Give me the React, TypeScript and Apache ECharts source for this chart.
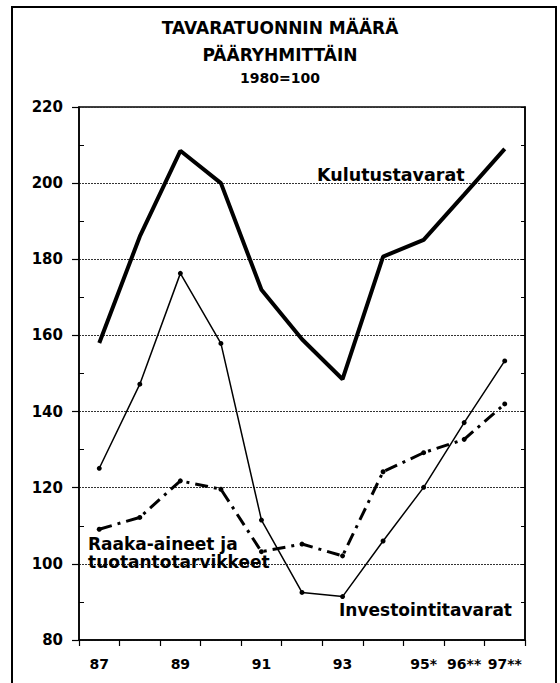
import React, { useEffect, useRef } from "react";
import * as echarts from "echarts";

const categories = ["87", "88", "89", "90", "91", "92", "93", "94", "95*", "96**", "97**"];
const shownLabels = ["87", "89", "91", "93", "95*", "96**", "97**"];
const kulutustavarat = [158, 186, 208.5, 200, 172, 159, 148.5, 180.7, 185.1, 197, 209];
const investointitavarat = [125.1, 147.2, 176.3, 157.9, 111.5, 92.5, 91.4, 106, 120.1, 137.1, 153.3];
const raakaAineet = [109.1, 112.2, 121.8, 119.6, 103.2, 105.2, 102.1, 124.2, 129.2, 132.7, 142];

const FONT = "'DejaVu Sans', 'Liberation Sans', Arial, sans-serif";

export default function App() {
  const ref = useRef<HTMLDivElement>(null);
  useEffect(() => {
    if (!ref.current) return;
    const chart = echarts.init(ref.current, null, { renderer: "svg" });
    const txt = (text: string, x: number, y: number, size: number, align = "left") => ({
      type: "text",
      x,
      y,
      z: 50,
      style: { text, font: `bold ${size}px ${FONT}`, fill: "#000", textAlign: align, textVerticalAlign: "middle" },
    });
    chart.setOption({
      animation: false,
      backgroundColor: "#fff",
      textStyle: { fontFamily: FONT },
      grid: { left: 79, right: 35, top: 107, bottom: 43, show: true, borderColor: "#000", borderWidth: 1.5, backgroundColor: "transparent" },
      graphic: [
        { type: "rect", shape: { x: 12, y: 7, width: 544, height: 682 }, style: { fill: "none", stroke: "#000", lineWidth: 2 }, z: 100 },
        txt("TAVARATUONNIN MÄÄRÄ", 280, 28, 17, "center"),
        txt("PÄÄRYHMITTÄIN", 280, 55, 17, "center"),
        txt("1980=100", 280, 78, 14, "center"),
        txt("Kulutustavarat", 317, 175, 17.5),
        txt("Raaka-aineet ja", 88, 544, 17),
        txt("tuotantotarvikkeet", 88, 562, 17),
        txt("Investointitavarat", 339, 610, 17),
      ],
      xAxis: {
        type: "category",
        data: categories,
        boundaryGap: true,
        axisLine: { lineStyle: { color: "#000", width: 1.5 } },
        axisTick: { show: true, alignWithLabel: false, interval: 0, length: 6, lineStyle: { color: "#000", width: 1.2 } },
        axisLabel: {
          interval: 0,
          margin: 17,
          color: "#000",
          fontSize: 14,
          fontWeight: "bold",
          fontFamily: FONT,
          formatter: (v: string) => (shownLabels.includes(v) ? v : ""),
        },
      },
      yAxis: [
        {
          type: "value",
          min: 80,
          max: 220,
          interval: 20,
          axisLine: { show: true, lineStyle: { color: "#000", width: 1.5 } },
          axisTick: { show: true, length: 7, lineStyle: { color: "#000", width: 1.2 } },
          axisLabel: { margin: 16, color: "#000", fontSize: 15, fontWeight: "bold", fontFamily: FONT },
          splitLine: { show: true, lineStyle: { color: "#333", type: [2, 1], width: 1 } },
        },
        {
          type: "value",
          position: "left",
          min: 80,
          max: 220,
          interval: 20,
          axisLine: { show: false },
          axisTick: { show: false, inside: true },
          minorTick: { show: true, splitNumber: 2, length: 5, lineStyle: { color: "#000", width: 1 } },
          axisLabel: { show: false },
          splitLine: { show: false },
        },
        {
          type: "value",
          position: "right",
          min: 80,
          max: 220,
          interval: 20,
          axisLine: { show: true, lineStyle: { color: "#000", width: 1.5 } },
          axisTick: { show: true, inside: true, length: 4, lineStyle: { color: "#000", width: 1 } },
          minorTick: { show: true, splitNumber: 2, length: 4, lineStyle: { color: "#000", width: 1 } },
          axisLabel: { show: false },
          splitLine: { show: false },
        },
      ],
      series: [
        {
          name: "Kulutustavarat",
          type: "line",
          data: kulutustavarat,
          symbol: "none",
          lineStyle: { color: "#000", width: 4 },
          z: 3,
        },
        {
          name: "Investointitavarat",
          type: "line",
          data: investointitavarat,
          symbol: "circle",
          symbolSize: 5,
          itemStyle: { color: "#000" },
          lineStyle: { color: "#000", width: 1.5 },
          z: 3,
        },
        {
          name: "Raaka-aineet ja tuotantotarvikkeet",
          type: "line",
          data: raakaAineet,
          symbol: "circle",
          symbolSize: 5,
          itemStyle: { color: "#000" },
          lineStyle: { color: "#000", width: 3, type: [13, 6, 3, 6] },
          z: 3,
        },
      ],
    });
    return () => chart.dispose();
  }, []);
  return <div ref={ref} style={{ position: "absolute", left: 0, top: 0, width: 560, height: 683, background: "#fff" }} />;
}
